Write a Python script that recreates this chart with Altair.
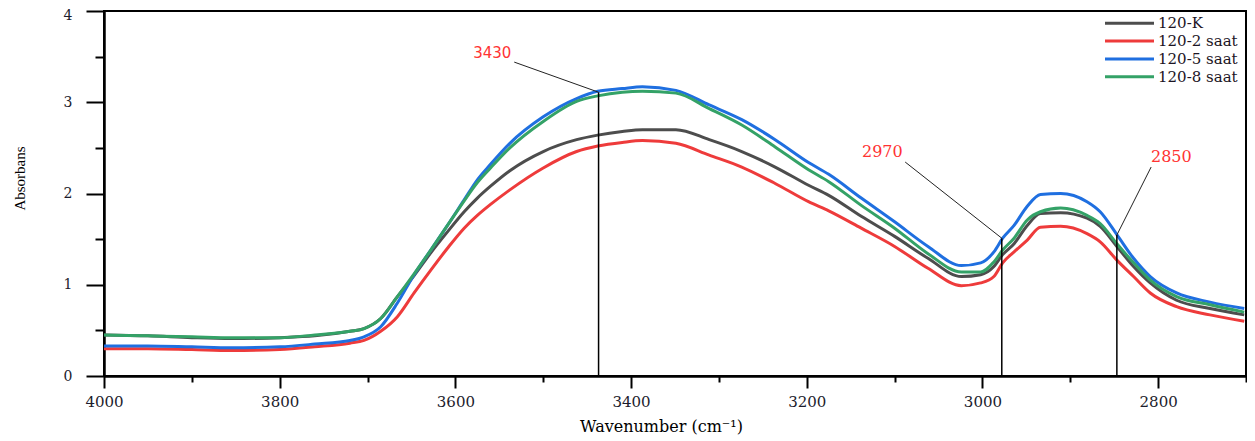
import altair as alt
import pandas as pd

# ---- data ----
wavenumber = [4000, 3950, 3900, 3855, 3800, 3760, 3720, 3704, 3685, 3666, 3647, 3628,
              3609, 3590, 3575, 3560, 3538, 3500, 3462, 3438, 3410, 3387, 3349, 3311,
              3274, 3236, 3198, 3175, 3138, 3100, 3062, 3024, 3002, 2987, 2977, 2964,
              2949, 2934, 2911, 2881, 2866, 2847, 2828, 2809, 2779, 2741, 2702]

k_vals = [0.45, 0.44, 0.42, 0.41, 0.42, 0.44, 0.49, 0.52, 0.63, 0.87, 1.10, 1.35,
          1.58, 1.80, 1.95, 2.08, 2.25, 2.46, 2.59, 2.64, 2.68, 2.70, 2.70, 2.59,
          2.46, 2.29, 2.09, 1.98, 1.75, 1.53, 1.29, 1.09, 1.11, 1.20, 1.33, 1.45,
          1.65, 1.78, 1.79, 1.73, 1.64, 1.42, 1.20, 1.02, 0.83, 0.74, 0.67]

h2_vals = [0.30, 0.30, 0.29, 0.28, 0.29, 0.32, 0.36, 0.39, 0.49, 0.65, 0.91, 1.16,
           1.40, 1.62, 1.76, 1.88, 2.04, 2.28, 2.46, 2.52, 2.56, 2.58, 2.55, 2.42,
           2.29, 2.11, 1.91, 1.81, 1.62, 1.42, 1.18, 0.99, 1.02, 1.09, 1.24, 1.36,
           1.49, 1.63, 1.64, 1.56, 1.47, 1.27, 1.09, 0.91, 0.76, 0.67, 0.60]

h5_vals = [0.33, 0.33, 0.32, 0.31, 0.32, 0.35, 0.39, 0.43, 0.54, 0.80, 1.11, 1.38,
           1.65, 1.93, 2.15, 2.32, 2.55, 2.84, 3.04, 3.12, 3.15, 3.17, 3.13, 2.97,
           2.81, 2.59, 2.34, 2.21, 1.95, 1.69, 1.42, 1.21, 1.24, 1.36, 1.51, 1.65,
           1.86, 1.99, 2.00, 1.91, 1.80, 1.55, 1.29, 1.09, 0.91, 0.81, 0.74]

h8_vals = [0.45, 0.44, 0.43, 0.42, 0.42, 0.45, 0.49, 0.52, 0.63, 0.87, 1.12, 1.38,
           1.65, 1.92, 2.12, 2.28, 2.50, 2.79, 3.01, 3.07, 3.11, 3.12, 3.10, 2.93,
           2.75, 2.51, 2.26, 2.13, 1.87, 1.62, 1.34, 1.14, 1.14, 1.25, 1.38, 1.51,
           1.71, 1.80, 1.84, 1.76, 1.67, 1.45, 1.24, 1.05, 0.87, 0.78, 0.70]

series_names = ["120-K", "120-2 saat", "120-5 saat", "120-8 saat"]
series_colors = ["#4d4d4d", "#ee3b3b", "#1f6fe0", "#34a267"]

x_major = [2800, 3000, 3200, 3400, 3600, 3800, 4000]
x_minor = [2700, 2900, 3100, 3300, 3500, 3700, 3900]
y_major = [0, 1, 2, 3, 4]
y_minor = [0.5, 1.5, 2.5, 3.5]

peak_labels = ["3430", "2970", "2850"]
peak_x = [3437, 2978, 2847]
peak_top = [3.11, 1.51, 1.545]
label_x = [3558, 3114, 2785]
label_y = [3.54, 2.455, 2.40]
leader_x = [3533, 3088, 2808]
leader_y = [3.44, 2.345, 2.29]

# ---- tables ----
rows = []
for name, vals in zip(series_names, [k_vals, h2_vals, h5_vals, h8_vals]):
    for w, v in zip(wavenumber, vals):
        rows.append({"wn": w, "abs": v, "series": name})
spec_df = pd.DataFrame(rows)

peaks_df = pd.DataFrame({
    "wn": peak_x, "y0": [0.0] * 3, "top": peak_top,
    "lx": leader_x, "ly": leader_y,
    "tx": label_x, "ty": label_y, "label": peak_labels,
})
legend_df = pd.DataFrame({"series": series_names})

xs = alt.Scale(domain=[2700, 4000], reverse=True, nice=False, zero=False)
ys = alt.Scale(domain=[0, 4], nice=False, zero=False)
cs = alt.Scale(domain=series_names, range=series_colors)

serif = "DejaVu Serif"
lab_col = "#1c1c2c"

lines = alt.Chart(spec_df).mark_line(strokeWidth=3, interpolate="monotone").encode(
    x=alt.X("wn:Q", scale=xs,
            axis=alt.Axis(values=x_major, format="d", tickSize=12, tickWidth=2,
                          domainWidth=2.5, domainColor="black", tickColor="black",
                          labelFont=serif, labelFontSize=15, labelColor=lab_col,
                          labelPadding=6, labelFlush=False,
                          title="Wavenumber (cm⁻¹)", titleFont=serif,
                          titleFontSize=16, titleFontWeight="normal",
                          titleColor="black", titlePadding=9, titleX=557,
                          orient="bottom")),
    y=alt.Y("abs:Q", scale=ys,
            axis=alt.Axis(values=y_major, format="d", tickSize=18, tickWidth=2,
                          domainWidth=2.5, domainColor="black", tickColor="black",
                          labelFont=serif, labelFontSize=14, labelColor=lab_col,
                          labelPadding=14, labelFlush=False,
                          labelOffset={"condition": {"test": "datum.value === 4",
                                                     "value": 4},
                                       "value": 0},
                          title="Absorbans", titleFont="Liberation Serif",
                          titleFontSize=15, titleFontWeight="normal",
                          titleColor="black", titleX=-85, titleY=167,
                          titleBaseline="middle", titleAlign="center",
                          orient="left")),
    color=alt.Color("series:N", scale=cs, legend=None),
    detail="series:N",
)

minor = alt.Chart(spec_df).mark_line(strokeOpacity=0).encode(
    x=alt.X("wn:Q", scale=xs,
            axis=alt.Axis(values=x_minor, tickSize=6, tickWidth=2, labels=False,
                          domain=False, tickColor="black", title=None, orient="bottom")),
    y=alt.Y("abs:Q", scale=ys,
            axis=alt.Axis(values=y_minor, tickSize=9, tickWidth=2, labels=False,
                          domain=False, tickColor="black", title=None, orient="left")),
    detail="series:N",
)

vrules = alt.Chart(peaks_df).mark_rule(color="black", strokeWidth=1.5).encode(
    x=alt.X("wn:Q", scale=xs, axis=None),
    y=alt.Y("y0:Q", scale=ys, axis=None),
    y2="top:Q",
)

leaders = alt.Chart(peaks_df).mark_rule(color="#222222", strokeWidth=1).encode(
    x=alt.X("lx:Q", scale=xs, axis=None),
    y=alt.Y("ly:Q", scale=ys, axis=None),
    x2="wn:Q",
    y2="top:Q",
)

txt_sans = alt.Chart(peaks_df).transform_filter(
    alt.datum.label == "3430"
).mark_text(font="DejaVu Sans", fontSize=15, color="#ff3333",
            align="center", baseline="middle").encode(
    x=alt.X("tx:Q", scale=xs, axis=None),
    y=alt.Y("ty:Q", scale=ys, axis=None),
    text="label:N",
)

txt_serif = alt.Chart(peaks_df).transform_filter(
    alt.datum.label != "3430"
).mark_text(font=serif, fontSize=16, color="#ff3333",
            align="center", baseline="middle").encode(
    x=alt.X("tx:Q", scale=xs, axis=None),
    y=alt.Y("ty:Q", scale=ys, axis=None),
    text="label:N",
)

ly = alt.Scale(type="point", domain=series_names, range=[12.3, 65.7], padding=0)

leg_lines = alt.Chart(legend_df).mark_rule(strokeWidth=3).encode(
    x=alt.value(1001), x2=alt.value(1050),
    y=alt.Y("series:N", scale=ly, axis=None),
    color=alt.Color("series:N", scale=cs, legend=None),
)

leg_text = alt.Chart(legend_df).mark_text(
    font=serif, fontSize=15, color="#1c1424", align="left", baseline="middle"
).encode(
    x=alt.value(1054),
    y=alt.Y("series:N", scale=ly, axis=None),
    text="series:N",
)

chart = alt.layer(
    lines, minor, vrules, leaders, txt_sans, txt_serif, leg_lines, leg_text
).resolve_scale(
    y="independent"
).resolve_axis(
    x="independent", y="independent"
).properties(
    width=1142, height=365,
    autosize=alt.AutoSizeParams(type="none"),
    padding={"left": 96, "top": 3, "right": 1, "bottom": 60},
    background="white",
).configure_view(
    stroke="black", strokeWidth=2
).configure_axis(
    grid=False
)

chart.save("out.html", embed_options={"renderer": "svg", "actions": False})
